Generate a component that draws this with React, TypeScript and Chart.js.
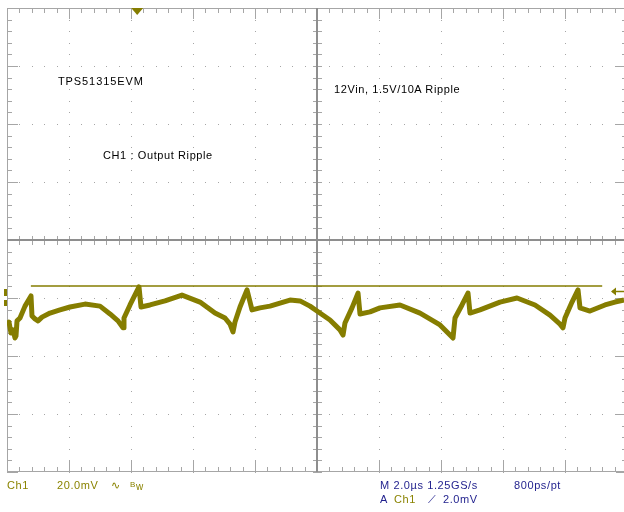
import React, { useEffect, useRef } from 'react';
import { Chart, registerables } from 'chart.js';

Chart.register(...registerables);

// ---- data (time in µs, 2 µs/div; voltage in mV, 20 mV/div) ----
const timeUs = [
  0, 0.065, 0.129, 0.194, 0.258, 0.29, 0.323, 0.419, 0.581, 0.774, 0.806, 0.903, 1.0, 1.129, 1.387, 1.71, 2.032,
  2.516, 3.0, 3.323, 3.581, 3.742, 3.774, 3.968, 4.258, 4.323, 4.613, 5.097, 5.645, 6.226, 6.71, 7.032, 7.194,
  7.29, 7.355, 7.516, 7.742, 7.903, 8.161, 8.484, 9.129, 9.452, 9.774, 10.0, 10.419, 10.742, 10.839, 10.903,
  11.129, 11.323, 11.387, 11.71, 12.032, 12.677, 13.323, 13.968, 14.387, 14.452, 14.677, 14.871, 14.935, 15.258,
  15.903, 16.452, 17.032, 17.516, 17.839, 17.935, 18.0, 18.226, 18.419, 18.484, 18.806, 19.29, 19.613, 19.903,
];
const rippleMv = [
  -29.3, -28.3, -32.1, -31.0, -33.8, -33.1, -27.9, -26.9, -22.8, -19.3, -26.2, -27.2, -27.9, -26.6, -25.2, -24.1, -23.1,
  -22.1, -22.8, -25.5, -27.9, -30.3, -26.9, -22.4, -16.2, -23.1, -22.4, -21.0, -19.0, -21.4, -25.2, -26.9, -29.0,
  -31.7, -28.3, -23.1, -17.2, -24.1, -23.4, -22.8, -20.7, -21.0, -22.8, -24.5, -27.6, -31.0, -32.8, -28.6,
  -23.4, -18.3, -25.5, -24.8, -23.4, -22.4, -25.2, -29.3, -33.8, -26.9, -22.4, -18.3, -25.2, -24.1,
  -21.4, -20.0, -22.4, -25.9, -29.0, -30.3, -26.9, -21.4, -17.2, -23.4, -24.5, -22.4, -21.4, -20.7,
];
const cursorTimeUs = [0.77, 19.2];
const cursorMv = [-15.9, -15.9];
const xDivisionsUs = [0, 2, 4, 6, 8, 10, 12, 14, 16, 18, 20];
const yDivisionsMv = [-80, -60, -40, -20, 0, 20, 40, 60, 80];
const TRIGGER_TIME_US = 4.2;
const TRIGGER_LEVEL_MV = -17.6;
const CH1_REF_MV = -19.7;

const OLIVE = '#857d00';
const TEXT_OLIVE = '#8a8300';
const BLUE = '#1e1e8c';
const GRAY = '#a6a6a6';
const DARK = '#8e8e8e';

const graticule = {
  id: 'graticule',
  beforeDatasetsDraw(chart: any) {
    const { ctx, chartArea: a, scales } = chart;
    const xs = scales.x;
    const ys = scales.y;
    const px = (t: number) => Math.round(xs.getPixelForValue(t));
    const py = (v: number) => Math.round(ys.getPixelForValue(v));
    const xMin = xDivisionsUs[0];
    const xMax = xDivisionsUs[xDivisionsUs.length - 1];
    const xMid = xDivisionsUs[(xDivisionsUs.length - 1) / 2];
    const yMin = yDivisionsMv[0];
    const yMax = yDivisionsMv[yDivisionsMv.length - 1];
    const xStep = (xDivisionsUs[1] - xDivisionsUs[0]) / 5;
    const yStep = (yDivisionsMv[1] - yDivisionsMv[0]) / 5;
    const nx = Math.round((xMax - xMin) / xStep);
    const ny = Math.round((yMax - yMin) / yStep);
    ctx.save();
    ctx.fillStyle = GRAY;
    // dotted grid
    for (const v of yDivisionsMv) {
      if (v === yMin || v === yMax || v === 0) continue;
      const y = py(v);
      for (let i = 0; i <= nx; i++) ctx.fillRect(px(xMin + i * xStep), y, 1, 1);
    }
    for (const t of xDivisionsUs) {
      if (t === xMin || t === xMax || t === xMid) continue;
      const x = px(t);
      for (let i = 0; i <= ny; i++) ctx.fillRect(x, py(yMin + i * yStep), 1, 1);
    }
    // border
    ctx.strokeStyle = GRAY;
    ctx.lineWidth = 1;
    ctx.strokeRect(a.left + 0.5, a.top + 0.5, a.right - a.left - 1, a.bottom - a.top - 1);
    // ticks
    const yc = py(0);
    const xc = px(xMid);
    for (let i = 0; i <= nx; i++) {
      const x = px(xMin + i * xStep);
      const len = i % 5 === 0 ? 11 : 5;
      ctx.fillRect(x, a.top, 1, len);
      ctx.fillRect(x, a.bottom - len, 1, len);
      ctx.fillRect(x, yc - 4, 1, 9);
    }
    for (let i = 0; i <= ny; i++) {
      const y = py(yMin + i * yStep);
      const len = i % 5 === 0 ? 11 : 5;
      ctx.fillRect(a.left, y, len, 1);
      ctx.fillRect(a.right - len, y, len, 1);
      ctx.fillRect(xc - 4, y, 9, 1);
    }
    // centre crosshair
    ctx.fillStyle = DARK;
    ctx.fillRect(xc - 1, a.top, 2, a.bottom - a.top);
    ctx.fillRect(a.left, yc - 1, a.right - a.left, 2);
    ctx.restore();
  },
  afterDatasetsDraw(chart: any) {
    const { ctx, chartArea: a, scales } = chart;
    const xs = scales.x;
    const ys = scales.y;
    ctx.save();
    ctx.fillStyle = OLIVE;
    ctx.strokeStyle = OLIVE;
    // trigger position marker
    const tx = xs.getPixelForValue(TRIGGER_TIME_US);
    ctx.beginPath();
    ctx.moveTo(tx - 6, a.top);
    ctx.lineTo(tx + 6, a.top);
    ctx.lineTo(tx, a.top + 7);
    ctx.closePath();
    ctx.fill();
    // ch1 reference marker (left)
    const ry = Math.round(ys.getPixelForValue(CH1_REF_MV));
    ctx.fillRect(a.left - 3, ry - 8, 3, 7);
    ctx.fillRect(a.left - 3, ry + 3, 3, 6);
    // trigger level arrow (right)
    const ly = Math.round(ys.getPixelForValue(TRIGGER_LEVEL_MV)) + 0.5;
    ctx.lineWidth = 1.5;
    ctx.beginPath();
    ctx.moveTo(612, ly);
    ctx.lineTo(626, ly);
    ctx.stroke();
    ctx.beginPath();
    ctx.moveTo(611, ly);
    ctx.lineTo(616, ly - 4);
    ctx.lineTo(616, ly + 4);
    ctx.closePath();
    ctx.fill();
    ctx.restore();
  },
};

const txt = (color: string): React.CSSProperties => ({
  position: 'absolute',
  fontFamily: '"Liberation Sans", Arial, sans-serif',
  fontSize: '11px',
  lineHeight: '12px',
  letterSpacing: '0.6px',
  whiteSpace: 'nowrap',
  color,
});

export default function App() {
  const ref = useRef<HTMLCanvasElement | null>(null);

  useEffect(() => {
    if (!ref.current) return;
    const chart = new Chart(ref.current, {
      type: 'line',
      data: {
        datasets: [
          {
            label: 'CH1 Output Ripple',
            data: timeUs.map((t, i) => ({ x: t, y: rippleMv[i] })),
            borderColor: OLIVE,
            borderWidth: 5,
            pointRadius: 0,
            tension: 0,
            borderJoinStyle: 'round',
          },
          {
            label: 'Cursor',
            data: cursorTimeUs.map((t, i) => ({ x: t, y: cursorMv[i] })),
            borderColor: OLIVE,
            borderWidth: 1.5,
            pointRadius: 0,
          },
        ],
      },
      options: {
        animation: false,
        responsive: false,
        devicePixelRatio: 1,
        layout: { padding: { left: 7, top: 8, right: 13, bottom: 40 } },
        scales: {
          x: { type: 'linear', min: xDivisionsUs[0], max: xDivisionsUs[xDivisionsUs.length - 1], display: false },
          y: { type: 'linear', min: yDivisionsMv[0], max: yDivisionsMv[yDivisionsMv.length - 1], display: false },
        },
        plugins: { legend: { display: false }, tooltip: { enabled: false } },
      },
      plugins: [graticule],
    });
    return () => chart.destroy();
  }, []);

  return (
    <div style={{ position: 'fixed', left: 0, top: 0, width: 624, height: 512, overflow: 'hidden', background: '#fff' }}>
      <canvas ref={ref} width={640} height={512} style={{ position: 'absolute', left: 0, top: 0, width: 640, height: 512 }} />
      <span style={{ ...txt('#000'), left: 58, top: 75, letterSpacing: '0.9px' }}>TPS51315EVM</span>
      <span style={{ ...txt('#000'), left: 103, top: 149 }}>CH1 : Output Ripple</span>
      <span style={{ ...txt('#000'), left: 334, top: 83 }}>12Vin, 1.5V/10A Ripple</span>
      <span style={{ ...txt(TEXT_OLIVE), left: 7, top: 479 }}>Ch1</span>
      <span style={{ ...txt(TEXT_OLIVE), left: 57, top: 479 }}>20.0mV</span>
      <span style={{ ...txt(TEXT_OLIVE), left: 111, top: 479 }}>∿</span>
      <span style={{ ...txt(TEXT_OLIVE), left: 130, top: 479, fontSize: '10px' }}>
        <span style={{ fontSize: '8px', verticalAlign: '3px' }}>B</span>w
      </span>
      <span style={{ ...txt(BLUE), left: 380, top: 479 }}>M 2.0µs 1.25GS/s</span>
      <span style={{ ...txt(BLUE), left: 514, top: 479 }}>800ps/pt</span>
      <span style={{ ...txt(BLUE), left: 380, top: 493 }}>A</span>
      <span style={{ ...txt(TEXT_OLIVE), left: 394, top: 493 }}>Ch1</span>
      <span style={{ ...txt(BLUE), left: 428, top: 493 }}>⟋</span>
      <span style={{ ...txt(BLUE), left: 443, top: 493 }}>2.0mV</span>
    </div>
  );
}
